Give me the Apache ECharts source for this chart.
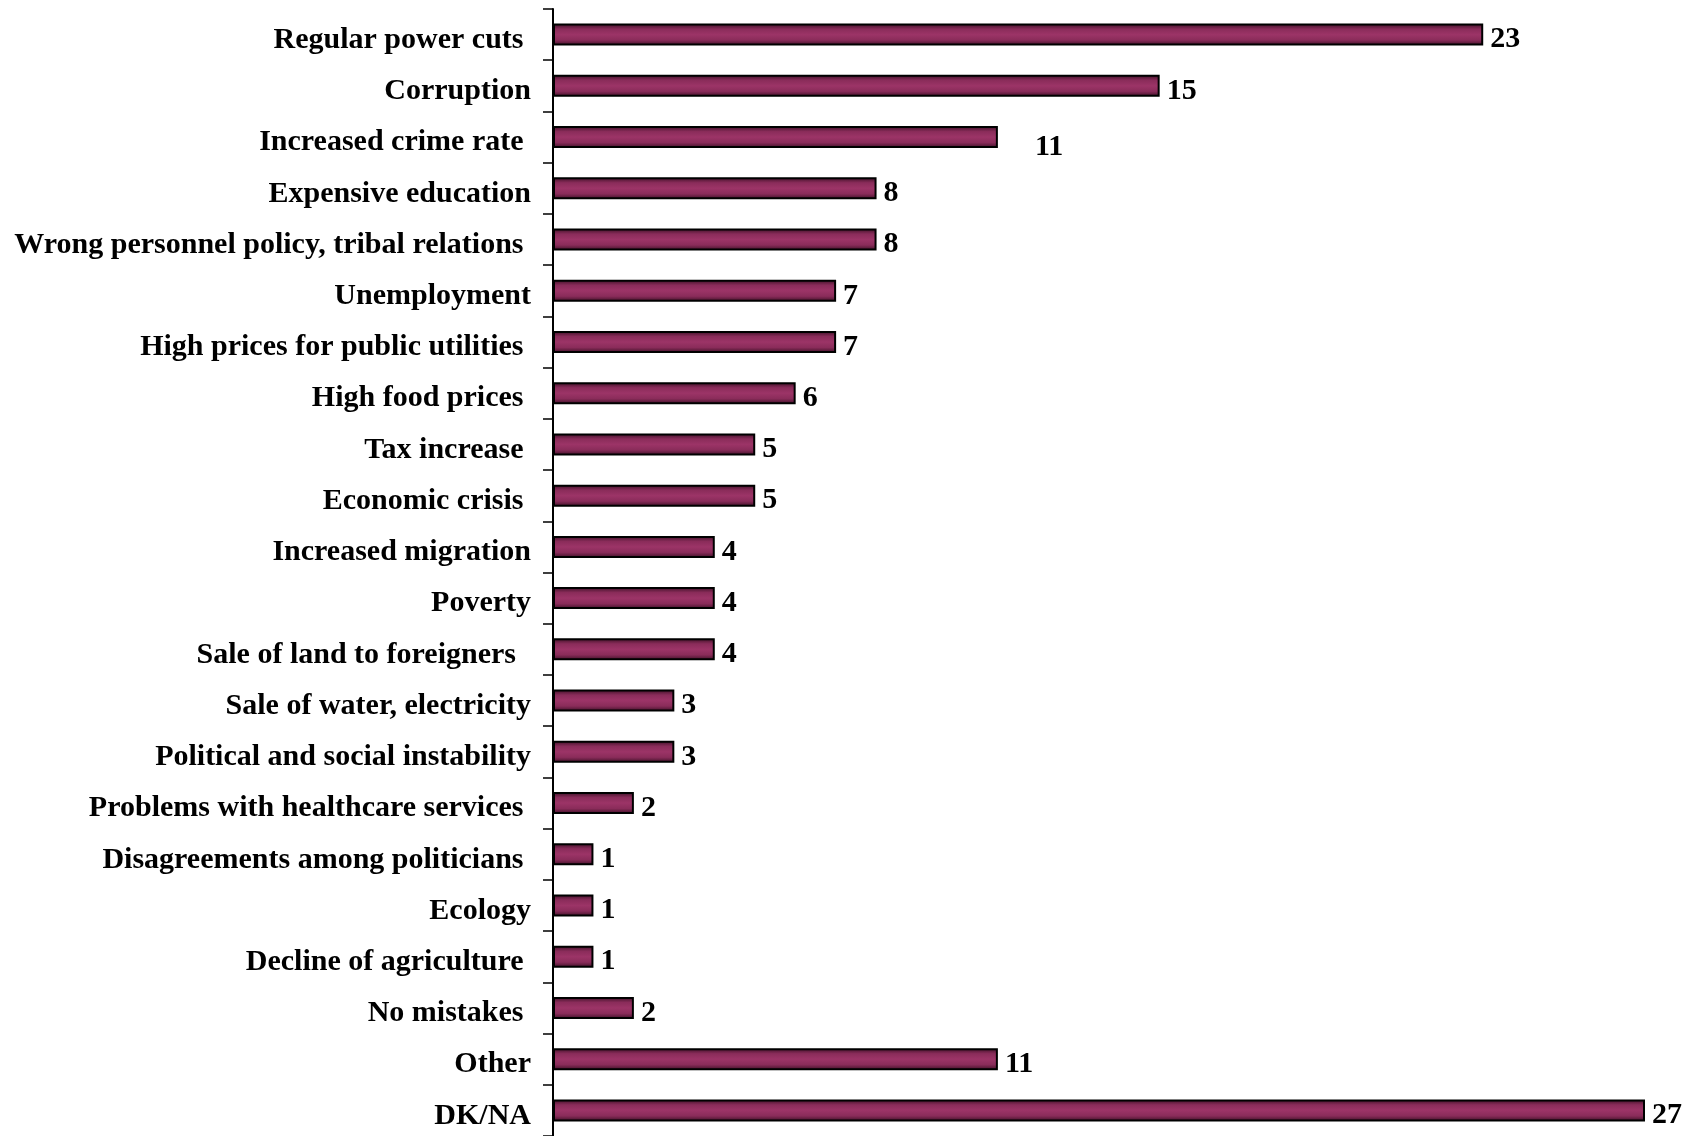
<!DOCTYPE html>
<html>
<head>
<meta charset="utf-8">
<script src="https://cdn.jsdelivr.net/npm/echarts@6/dist/echarts.min.js"></script>
<style>
html,body{margin:0;padding:0;background:#fff;}
#main{width:1697px;height:1136px;}
</style>
</head>
<body>
<div id="main"></div>
<script>
const categories = [
  "Regular power cuts ",
  "Corruption",
  "Increased crime rate ",
  "Expensive education",
  "Wrong personnel policy, tribal relations ",
  "Unemployment",
  "High prices for public utilities ",
  "High food prices ",
  "Tax increase ",
  "Economic crisis ",
  "Increased migration",
  "Poverty",
  "Sale of land to foreigners  ",
  "Sale of water, electricity",
  "Political and social instability",
  "Problems with healthcare services ",
  "Disagreements among politicians ",
  "Ecology",
  "Decline of agriculture ",
  "No mistakes ",
  "Other",
  "DK/NA"
];
const values = [23, 15, 11, 8, 8, 7, 7, 6, 5, 5, 4, 4, 4, 3, 3, 2, 1, 1, 1, 2, 11, 27];

const chart = echarts.init(document.getElementById('main'), null, {renderer: 'canvas'});
const fill = new echarts.graphic.LinearGradient(0, 0, 0, 1, [
  {offset: 0, color: '#3a0f24'},
  {offset: 0.25, color: '#8a2c5a'},
  {offset: 0.5, color: '#9c3467'},
  {offset: 0.75, color: '#8a2c5a'},
  {offset: 1, color: '#3a0f24'}
]);
const data = values.map((v, i) => {
  const d = {value: v};
  if (i === 2) d.label = {offset: [30, 10]};
  return d;
});
chart.setOption({
  animation: false,
  backgroundColor: '#ffffff',
  grid: {left: 553, right: 52, top: 9, height: 1128, containLabel: false},
  xAxis: {
    type: 'value', min: 0, max: 27,
    show: false
  },
  yAxis: {
    type: 'category',
    data: categories,
    inverse: true,
    axisLine: {show: true, lineStyle: {color: '#000', width: 2}},
    axisTick: {show: true, length: 10, lineStyle: {color: '#000', width: 1.5}},
    axisLabel: {
      margin: 22,
      formatter: function (v) { return '{a|' + v + '}'; },
      rich: {
        a: {
          color: '#000',
          fontFamily: 'Liberation Serif',
          fontWeight: 'bold',
          fontSize: 30,
          padding: [11, 0, 0, 0]
        }
      }
    }
  },
  series: [{
    type: 'bar',
    data: data,
    barWidth: 22,
    itemStyle: {color: fill, borderColor: '#000', borderWidth: 2},
    label: {
      show: true,
      position: 'right',
      distance: 7,
      offset: [0, 5],
      color: '#000',
      fontFamily: 'Liberation Serif',
      fontWeight: 'bold',
      fontSize: 30
    }
  }]
});
</script>
</body>
</html>
